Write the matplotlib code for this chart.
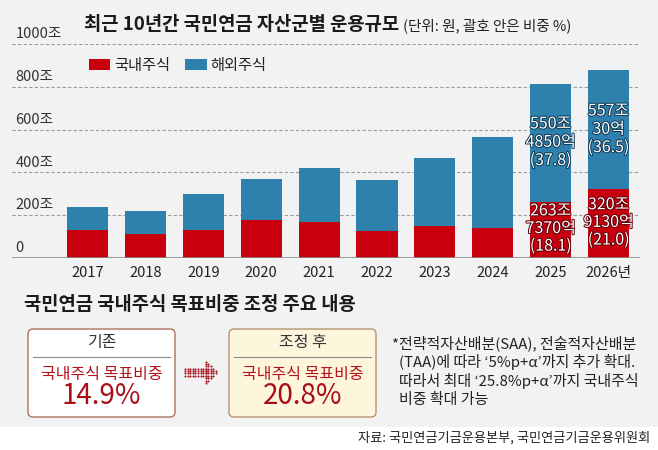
import matplotlib
matplotlib.use("Agg")
import matplotlib.pyplot as plt
import matplotlib.patheffects as pe
from matplotlib.patches import FancyBboxPatch, Rectangle
import numpy as np

plt.rcParams['font.family'] = ['Noto Sans CJK KR', 'DejaVu Sans']

# data (조 원)
years = ['2017', '2018', '2019', '2020', '2021', '2022', '2023', '2024', '2025', '2026년']
domestic = [130, 110, 130, 177, 166, 125, 148, 138, 263.7, 320.9]
overseas = [109, 110, 168, 190, 256, 239, 320, 429, 550.5, 557.0]
dom_labels = ['', '', '', '', '', '', '', '', '263조\n7370억\n(18.1)', '320조\n9130억\n(21.0)']
ovs_labels = ['', '', '', '', '', '', '', '', '550조\n4850억\n(37.8)', '557조\n30억\n(36.5)']
yticks = [0, 200, 400, 600, 800, 1000]
ytick_labels = ['0', '200조', '400조', '600조', '800조', '1000조']

RED = '#c8000e'
BLUE = '#2e80ad'
BG = '#f2f2f2'

W, H = 658, 450
fig = plt.figure(figsize=(W / 100, H / 100), dpi=100)
fig.patch.set_facecolor('white')

# overlay in pixel units for background, boxes and texts
lay = fig.add_axes([0, 0, 1, 1])
lay.set_xlim(0, W)
lay.set_ylim(H, 0)
lay.axis('off')
lay.set_zorder(0)
lay.add_patch(Rectangle((0, 0), W, 427, facecolor=BG, edgecolor='none'))

# bar chart
ax = fig.add_axes([12 / W, 1 - 258 / H, 628 / W, 214 / H])
ax.set_zorder(1)
ax.patch.set_alpha(0)
x = np.arange(len(years))
bw = 0.71
ax.bar(x, domestic, bw, color=RED, label='국내주식', zorder=2)
ax.bar(x, overseas, bw, bottom=domestic, color=BLUE, label='해외주식', zorder=2)
ax.set_xlim(-1.304, 9.542)
ax.set_ylim(0, 1000)
for v, lab in zip(yticks, ytick_labels):
    if v > 0:
        ax.axhline(v, color='#9a9a9a', lw=0.8, ls=(0, (3, 2)), zorder=1)
    ax.annotate(lab, xy=(0, v), xycoords=('axes fraction', 'data'),
                xytext=(2.5, 2), textcoords='offset points',
                ha='left', va='bottom', fontsize=10.5, color='#333333')
ax.axhline(0, color='#8a8a8a', lw=1.2, zorder=3)
for s in ax.spines.values():
    s.set_visible(False)
ax.set_yticks([])
ax.set_xticks(x)
ax.set_xticklabels(years, fontsize=10.5, color='#222222')
ax.tick_params(axis='x', length=0, pad=6)

for i in range(len(years)):
    if dom_labels[i]:
        ax.text(x[i], domestic[i] / 2 + 6, dom_labels[i], ha='center', va='center',
                fontsize=11.5, color='white', linespacing=1.05, zorder=4,
                path_effects=[pe.withStroke(linewidth=1.4, foreground='#5a0008')])
    if ovs_labels[i]:
        ax.text(x[i], domestic[i] + overseas[i] / 2 + 2, ovs_labels[i], ha='center', va='center',
                fontsize=11.5, color='white', linespacing=1.1, zorder=4,
                path_effects=[pe.withStroke(linewidth=1.4, foreground='#0f3550')])

leg = ax.legend(loc='upper left', bbox_to_anchor=(89 / W, 1 - 57 / H),
                bbox_transform=fig.transFigure, ncol=2, frameon=False,
                fontsize=11, handlelength=1.4, handleheight=0.75,
                handletextpad=0.25, columnspacing=1.0, borderpad=0, borderaxespad=0)
for t in leg.get_texts():
    t.set_color('#222222')

# titles
t1 = lay.text(84, 25, '최근 10년간 국민연금 자산군별 운용규모', fontsize=13.5,
              fontweight='bold', color='#1a1a1a', ha='left', va='center')
lay.annotate('(단위: 원, 괄호 안은 비중 %)', xy=(1, 0.45), xycoords=t1,
             xytext=(3, 0), textcoords='offset points', ha='left', va='center',
             fontsize=10.5, color='#222222')
lay.text(24, 305, '국민연금 국내주식 목표비중 조정 주요 내용', fontsize=13.5,
         fontweight='bold', color='#1a1a1a', ha='left', va='center')

# boxes
boxes = [
    (28, '기존', '14.9%', 'white', '#b07062'),
    (229, '조정 후', '20.8%', '#fdf5dc', '#b59272'),
]
for bx, head, val, fc, ec in boxes:
    lay.add_patch(FancyBboxPatch((bx, 329), 147, 88, boxstyle='round,pad=0,rounding_size=5',
                                 facecolor=fc, edgecolor=ec, lw=1.0))
    lay.plot([bx + 5, bx + 142], [357, 357], color='#8c8c8c', lw=0.8)
    lay.text(bx + 73.5, 343, head, ha='center', va='center', fontsize=11.5, color='#333333')
    lay.text(bx + 73.5, 374, '국내주식 목표비중', ha='center', va='center', fontsize=11.5, color='#b5121c')
    lay.text(bx + 73.5, 396, val, ha='center', va='center', fontsize=20, color='#a80f18')

# dotted arrow
dots = []
for gx in np.arange(185, 206, 2.6):
    for gy in np.arange(368.5, 378, 2.4):
        dots.append((gx, gy))
for gx in np.arange(205.5, 218, 2.6):
    half = 11.5 * (218 - gx) / 12.5
    for gy in np.arange(373 - half, 373 + half + 0.1, 2.4):
        dots.append((gx, gy))
dots = np.array(dots)
lay.scatter(dots[:, 0], dots[:, 1], s=2.2, color='#a3101c', linewidths=0)

# note
note_kw = dict(ha='left', va='center', fontsize=10.8, color='#222222')
lay.text(392, 343, '*전략적자산배분(SAA), 전술적자산배분', **note_kw)
lay.text(399, 362, '(TAA)에 따라 ‘5%p+α’까지 추가 확대.', **note_kw)
lay.text(399, 381, '따라서 최대 ‘25.8%p+α’까지 국내주식', **note_kw)
lay.text(399, 400, '비중 확대 가능', **note_kw)

lay.text(650, 438, '자료: 국민연금기금운용본부, 국민연금기금운용위원회', ha='right', va='center',
         fontsize=9.5, color='#222222')

fig.savefig('out.png', dpi=100, facecolor=fig.get_facecolor())
